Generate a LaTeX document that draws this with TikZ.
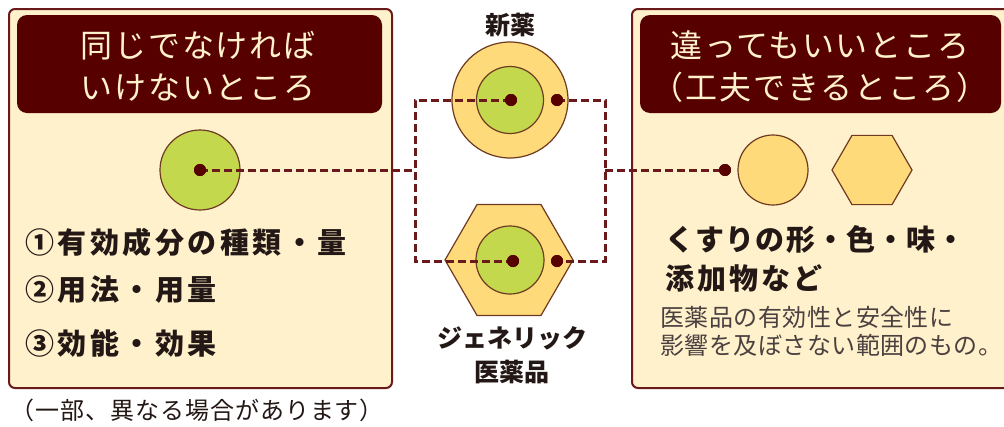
\documentclass[tikz,border=0pt]{standalone}
\usepackage{fontspec}
\setmainfont{Noto Sans CJK JP}
\usetikzlibrary{shapes.geometric}
\definecolor{maroon}{HTML}{560000}
\definecolor{cream}{HTML}{FFF1CB}
\definecolor{lgreen}{HTML}{C3D84C}
\definecolor{gold}{HTML}{FFDA7A}
\definecolor{edge}{HTML}{6E3A22}
\definecolor{dashc}{HTML}{6A1A1A}
\definecolor{txt}{HTML}{231815}
\definecolor{gtxt}{HTML}{4A4040}
\tikzset{
  panel/.style={draw=dashc, line width=2pt, fill=cream, rounded corners=6pt},
  titlebox/.style={fill=maroon, rounded corners=10pt},
  titletext/.style={text=cream, align=center, font=\fontsize{32}{42}\selectfont\addfontfeatures{LetterSpace=6}},
  greendisc/.style={circle, draw=edge, line width=1.2pt, fill=lgreen, inner sep=0pt},
  golddisc/.style={circle, draw=edge, line width=1.2pt, fill=gold, inner sep=0pt},
  goldhex/.style={regular polygon, regular polygon sides=6, draw=edge, line width=1.2pt, fill=gold, inner sep=0pt},
  dot/.style={circle, fill=maroon, inner sep=0pt, minimum size=12pt},
  link/.style={draw=dashc, line width=3pt, dash pattern=on 8pt off 4pt},
  item/.style={anchor=west, text=txt, font=\bfseries\fontsize{29}{34}\selectfont\addfontfeatures{LetterSpace=12}},
  ritem/.style={anchor=west, text=txt, font=\bfseries\fontsize{29}{34}\selectfont\addfontfeatures{LetterSpace=4}},
  small/.style={anchor=west, inner sep=0pt, text=gtxt, font=\fontsize{24}{28}\selectfont\addfontfeatures{LetterSpace=2}},
  label/.style={text=txt, font=\bfseries\fontsize{25}{30}\selectfont},
}
\begin{document}
\begin{tikzpicture}[x=1pt,y=-1pt]
\useasboundingbox (0,0) rectangle (1004,426);
% panels
\draw[panel] (9,9) rectangle (392,388);
\draw[panel] (632,9) rectangle (1012,388);
\fill[titlebox] (17,15) rectangle (382,113);
\fill[titlebox] (640,15) rectangle (1001,113);
\node[titletext] (tl) at (198,66) {同じでなければ\\いけないところ};
\node[titletext] (tr) at (820,67) {違ってもいいところ\\（工夫できるところ）};
% shapes
\node[greendisc, minimum size=80pt] (cl) at (200,170) {};
\node[golddisc, minimum size=116pt] (newo) at (510,100) {};
\node[greendisc, minimum size=67pt] (newi) at (510,100) {};
\node[goldhex, minimum size=128pt] (gho) at (509,260) {};
\node[greendisc, minimum size=68pt] (ghi) at (510,260) {};
\node[golddisc, minimum size=70pt] (cr) at (773,170) {};
\node[goldhex, minimum size=80pt] (hr) at (872,170) {};
% junction coordinates
\coordinate (jl) at (415,170);
\coordinate (jlb) at (415,261);
\coordinate (jr) at (605,170);
\coordinate (jrb) at (605,261);
% dots
\node[dot] (dl) at (200,170) {};
\node[dot] (dn) at (511,100) {};
\node[dot] (dn2) at (557,100) {};
\node[dot] (dg) at (513,261) {};
\node[dot] (dg2) at (557,261) {};
\node[dot] (dr) at (725,170) {};
% connectors
\draw[link] (dl.center) -- (jl);
\draw[link] (dn.center) -| (jlb) -- (dg.center);
\draw[link] (dn2.center) -| (jrb) -- (dg2.center);
\draw[link] (jr) -- (dr.center);
\node[dot] at (dl) {};
\node[dot] at (dn) {};
\node[dot] at (dn2) {};
\node[dot] at (dg) {};
\node[dot] at (dg2) {};
\node[dot] at (dr) {};
% texts
\node[item] (i1) at (22,242) {①有効成分の種類・量};
\node[item] (i2) at (22,290) {②用法・用量};
\node[item] (i3) at (22,343) {③効能・効果};
\node[anchor=west, text=txt, font=\fontsize{24}{28}\selectfont\addfontfeatures{LetterSpace=4}] (note) at (7,410) {（一部、異なる場合があります）};
\node[label] (ln) at (510,25) {新薬};
\node[label, align=center, font=\bfseries\fontsize{25}{34}\selectfont] (lg) at (512,355) {ジェネリック\\医薬品};
\node[ritem] (r1) at (662,240) {くすりの形・色・味・};
\node[ritem, font=\bfseries\fontsize{29}{34}\selectfont\addfontfeatures{LetterSpace=10}] (r2) at (662,278) {添加物など};
\node[small] (s1) at (660,317) {医薬品の有効性と安全性に};
\node[small] (s2) at (660,345) {影響を及ぼさない範囲のもの。};
\end{tikzpicture}
\end{document}
